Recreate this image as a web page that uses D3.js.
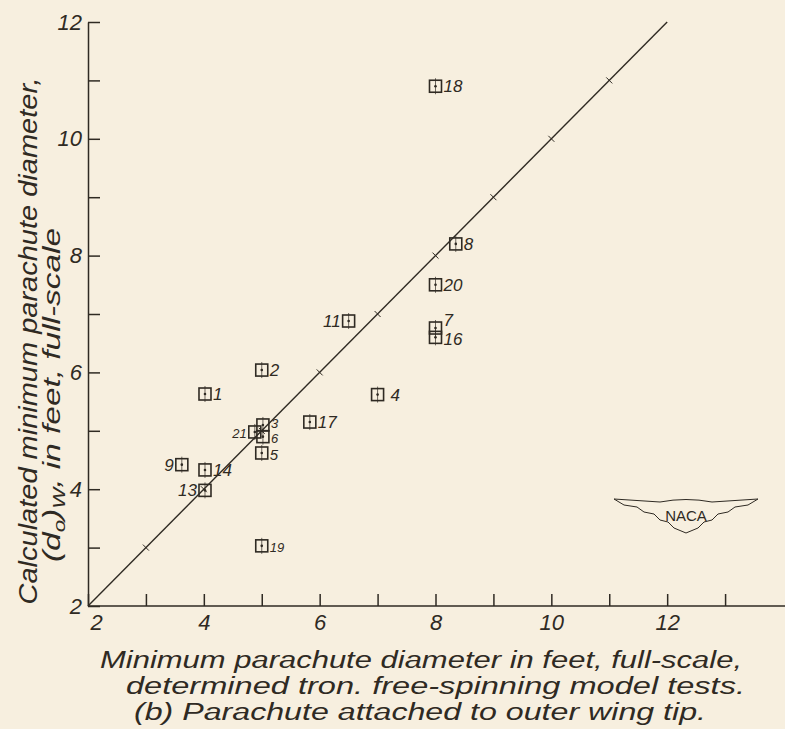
<!DOCTYPE html>
<html lang="en">
<head>
<meta charset="UTF-8">
<title>Minimum parachute diameter</title>
<style>
    body { margin: 0; padding: 0; background: #f7efdf; }
    svg { display: block; }
    text { font-family: "Liberation Sans", Arial, sans-serif; font-style: italic; fill: #2f2a23; }
</style>
</head>
<body>
<svg id="chart" width="785" height="729"></svg>
<script src="https://d3js.org/d3.v7.min.js"></script>
<script>
// run numbers, diameter from free-spinning model tests (x), calculated diameter (y)
var runs     = ["1", "2", "3", "4", "5", "6", "7", "8", "9", "11", "13", "14", "16", "17", "18", "19", "20", "21"];
var testDiam = [4.02, 5.0, 5.02, 7.0, 5.0, 5.02, 8.0, 8.35, 3.62, 6.5, 4.02, 4.02, 8.0, 5.83, 8.0, 5.0, 8.0, 4.88];
var calcDiam = [5.63, 6.04, 5.1, 5.62, 4.62, 4.9, 6.76, 8.2, 4.42, 6.88, 3.98, 4.33, 6.6, 5.15, 10.9, 3.03, 7.5, 4.98];
var xTicks = [2, 4, 6, 8, 10, 12];
var yTicks = [2, 4, 6, 8, 10, 12];
// runs whose number is written on the left of the symbol
var leftLabels = ["9", "11", "13", "21"];
var smallLabels = ["3", "6", "19", "21"];

var ink = "#2f2a23";
var svg = d3.select("#chart");

svg.append("rect").attr("width", 785).attr("height", 729).attr("fill", "#f7efdf");

var x = d3.scaleLinear().domain([2, 14]).range([88, 783]);
var y = d3.scaleLinear().domain([2, 12]).range([606, 22]);

// x axis
var xAxis = svg.append("g")
    .attr("transform", "translate(0," + y(2) + ")")
    .call(d3.axisBottom(x)
        .tickValues(d3.range(2, 14))
        .tickSizeInner(-12).tickSizeOuter(0).tickPadding(8)
        .tickFormat(function (d) { return xTicks.indexOf(d) >= 0 ? d : ""; }));
xAxis.select(".domain").attr("d", "M88,0H785");

// y axis
var yAxis = svg.append("g")
    .attr("transform", "translate(" + x(2) + ",0)")
    .call(d3.axisLeft(y)
        .tickValues(d3.range(2, 13))
        .tickSizeInner(-12).tickSizeOuter(0).tickPadding(6)
        .tickFormat(function (d) { return yTicks.indexOf(d) >= 0 ? d : ""; }));

svg.selectAll(".domain, .tick line").attr("stroke", ink).attr("stroke-width", 1.5);
svg.selectAll(".tick text").attr("font-size", 22).style("font-family", "Liberation Sans, Arial, sans-serif")
    .style("font-style", "italic").attr("fill", ink);
xAxis.selectAll(".tick text").filter(function (d) { return d === 2; }).attr("dx", 8);

// line of agreement with small cross marks
svg.append("line")
    .attr("x1", x(2)).attr("y1", y(2)).attr("x2", x(12)).attr("y2", y(12))
    .attr("stroke", ink).attr("stroke-width", 1.4);
svg.selectAll(".cross").data(d3.range(3, 12)).enter().append("line")
    .attr("x1", function (d) { return x(d) - 3; }).attr("y1", function (d) { return y(d) - 3; })
    .attr("x2", function (d) { return x(d) + 3; }).attr("y2", function (d) { return y(d) + 3; })
    .attr("stroke", ink).attr("stroke-width", 1);

// data symbols
var pts = runs.map(function (r, i) { return {run: r, x: testDiam[i], y: calcDiam[i]}; });
var g = svg.selectAll(".pt").data(pts).enter().append("g")
    .attr("transform", function (d) { return "translate(" + x(d.x) + "," + y(d.y) + ")"; });
g.append("rect").attr("x", -6).attr("y", -6).attr("width", 12).attr("height", 12)
    .attr("fill", "none").attr("stroke", ink).attr("stroke-width", 1.6);
g.append("line").attr("x1", 0).attr("x2", 0).attr("y1", -8).attr("y2", 8)
    .attr("stroke", ink).attr("stroke-width", 0.7);
g.append("circle").attr("r", 1.3).attr("fill", ink);
g.append("text")
    .attr("x", function (d) { return leftLabels.indexOf(d.run) >= 0 ? -8 : (d.run === "4" ? 13 : 8); })
    .attr("y", function (d) {
        if (d.run === "7") return -2;
        if (d.run === "16") return 8;
        if (d.run === "3") return 3;
        if (d.run === "6") return 6;
        if (d.run === "5") return 7;
        return 6;
    })
    .attr("text-anchor", function (d) { return leftLabels.indexOf(d.run) >= 0 ? "end" : "start"; })
    .attr("font-size", function (d) {
        if (d.run === "5") return 15;
        return smallLabels.indexOf(d.run) >= 0 ? 13 : 17;
    })
    .text(function (d) { return d.run; });

// axis titles
svg.append("text")
    .attr("transform", "translate(37,341) rotate(-90)")
    .attr("text-anchor", "middle").attr("font-size", 25)
    .attr("textLength", 527).attr("lengthAdjust", "spacingAndGlyphs")
    .text("Calculated minimum parachute diameter,");
var t2 = svg.append("text")
    .attr("transform", "translate(60,395) rotate(-90)")
    .attr("text-anchor", "middle").attr("font-size", 24)
    .attr("textLength", 334).attr("lengthAdjust", "spacingAndGlyphs");
t2.append("tspan").text("(d");
t2.append("tspan").attr("font-size", 16).attr("dy", 5).text("o");
t2.append("tspan").attr("dy", -5).text(")");
t2.append("tspan").attr("font-size", 16).attr("dy", 5).text("W");
t2.append("tspan").attr("dy", -5).text(", in feet, full-scale");

var xTitle = [
    {text: "Minimum parachute diameter in feet, full-scale,", x: 100, y: 668, len: 642},
    {text: "determined tron. free-spinning model tests.", x: 126, y: 694, len: 619},
    {text: "(b) Parachute attached to outer wing tip.", x: 134, y: 720, len: 572}
];
svg.selectAll(".xt").data(xTitle).enter().append("text")
    .attr("x", function (d) { return d.x; }).attr("y", function (d) { return d.y; })
    .attr("font-size", 23)
    .attr("textLength", function (d) { return d.len; }).attr("lengthAdjust", "spacingAndGlyphs")
    .text(function (d) { return d.text; });

// NACA wings
svg.append("path")
    .attr("d", "M614,499 L660,502 Q686,497 712,502 L758,499 L748,505 L735,507 L728,512 L718,514 L712,520 " +
        "L704,522 L698,528 L686,533 L674,528 L668,522 L660,520 L654,514 L644,512 L637,507 L624,505 Z")
    .attr("fill", "#f7efdf").attr("stroke", ink).attr("stroke-width", 1);
svg.append("text").attr("x", 686).attr("y", 521).attr("text-anchor", "middle")
    .attr("font-size", 15).style("font-style", "normal").style("font-family", "Liberation Sans, sans-serif")
    .text("NACA");
</script>
</body>
</html>
